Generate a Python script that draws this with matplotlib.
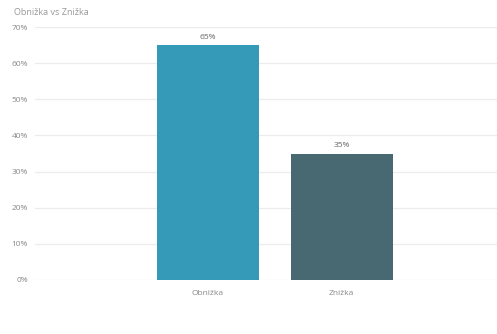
import matplotlib
matplotlib.use('Agg')
import matplotlib.pyplot as plt
from matplotlib.ticker import FuncFormatter

categories = ['Obnižka', 'Znižka']
shares = [0.65, 0.35]
bar_colors = ['#3599B8', '#486872']
yticks = [0, 0.1, 0.2, 0.3, 0.4, 0.5, 0.6, 0.7]

plt.rcParams['font.family'] = ['Open Sans', 'DejaVu Sans']

fig = plt.figure(figsize=(4.97, 3.34), dpi=100)
ax = fig.add_axes([0.0704, 0.1617, 0.9296, 0.7573])

xs = range(len(categories))
bars = ax.bar(xs, shares, width=0.76, color=bar_colors, zorder=3)
for b, v in zip(bars, shares):
    ax.text(b.get_x() + b.get_width() / 2, v + 0.012, '%d%%' % round(v * 100),
            ha='center', va='bottom', fontsize=6, color='#666666')

ax.set_xlim(-1.29, 2.16)
ax.set_ylim(0, 0.7)
ax.set_yticks(yticks)
ax.yaxis.set_major_formatter(FuncFormatter(lambda v, p: '%d%%' % round(v * 100)))
ax.set_xticks(list(xs))
ax.set_xticklabels(categories)
ax.tick_params(axis='both', length=0, labelsize=6, colors='#888888')
ax.tick_params(axis='x', pad=7)
ax.tick_params(axis='y', pad=5)
ax.grid(axis='y', color='#ececec', linewidth=0.9, zorder=0)
for s in ax.spines.values():
    s.set_visible(False)

fig.text(0.028, 0.962, 'Obnižka vs Znižka', fontsize=6.5, color='#999999',
         ha='left', va='center')

fig.savefig('out.png', dpi=100)
